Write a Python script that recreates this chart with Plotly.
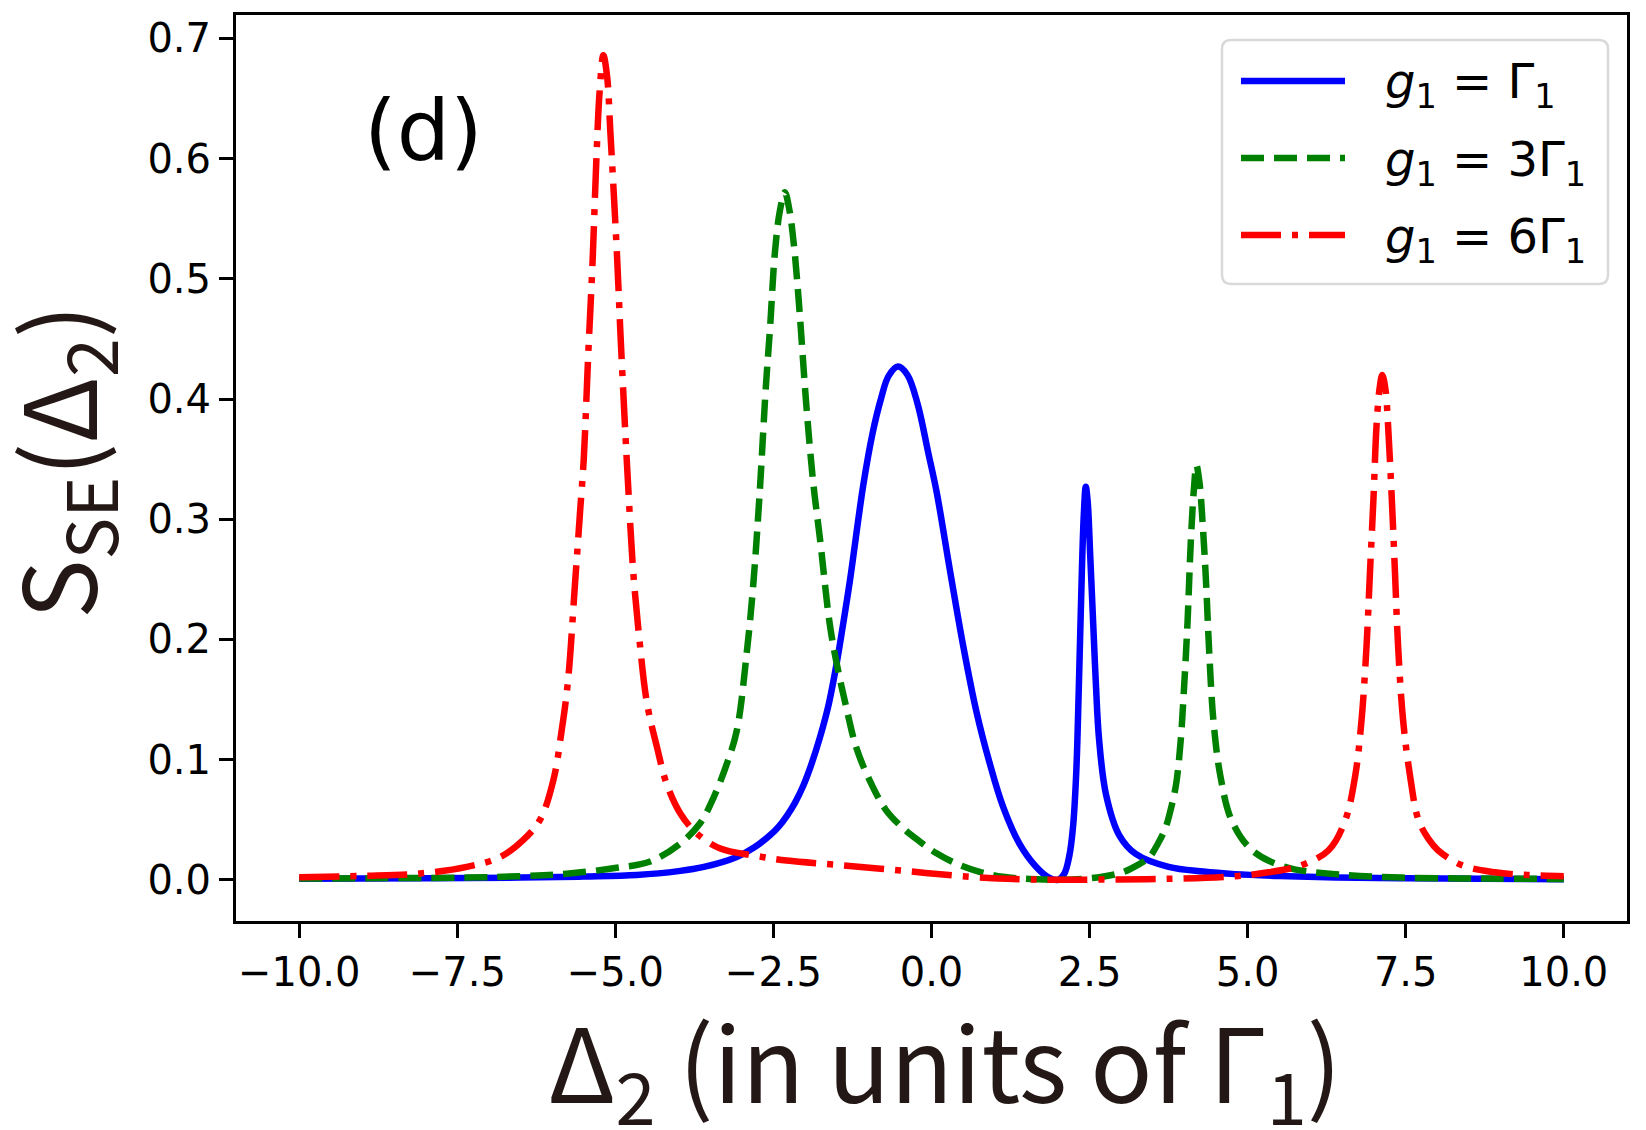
import plotly.graph_objects as go

# ---------------- data ----------------
blue_x = [-10, -8, -6.5, -5.5, -4.66, -4.0, -3.6, -3.08, -2.8, -2.555, -2.42, -2.29, -2.16, -2.03,
          -1.9, -1.767, -1.63, -1.5, -1.4, -1.29, -1.08, -0.93, -0.8, -0.68, -0.53, -0.38, -0.22,
          -0.05, 0.08, 0.29, 0.5, 0.71, 0.92, 1.13, 1.39, 1.65, 1.85, 2.0, 2.1, 2.18, 2.24, 2.29,
          2.33, 2.38, 2.41, 2.44, 2.47, 2.51, 2.56, 2.60, 2.65, 2.76, 2.97, 3.23, 3.75, 4.3, 4.8,
          5.5, 6.4, 7.5, 8.7, 10]
blue_y = [0.0008, 0.0012, 0.0018, 0.0027, 0.0040, 0.0072, 0.0107, 0.019, 0.027, 0.037, 0.044,
          0.053, 0.064, 0.078, 0.096, 0.118, 0.145, 0.180, 0.212, 0.249, 0.328, 0.372, 0.400, 0.419,
          0.427, 0.420, 0.396, 0.355, 0.323, 0.258, 0.195, 0.140, 0.097, 0.061, 0.030, 0.011,
          0.002, 0.0, 0.005, 0.020, 0.045, 0.090, 0.160, 0.260, 0.305, 0.327, 0.315, 0.270, 0.210,
          0.163, 0.117, 0.071, 0.037, 0.0215, 0.0107, 0.0068, 0.0047, 0.0031, 0.0018, 0.0012,
          0.0008, 0.0005]

green_x = [-10, -8.5, -7.35, -6.5, -5.77, -4.98, -4.46, -4.0, -3.66, -3.45, -3.24, -3.08, -2.92,
           -2.82, -2.72, -2.62, -2.55, -2.48, -2.40, -2.32, -2.25, -2.17, -2.09, -1.98, -1.87, -1.76,
           -1.61, -1.50, -1.35, -1.19, -0.98, -0.72, -0.45, -0.19, 0.08, 0.39, 0.76, 1.13, 1.5, 1.8,
           2.0, 2.3, 2.7, 3.02, 3.25, 3.44, 3.58, 3.70, 3.80, 3.87, 3.94, 4.0, 4.05, 4.10, 4.15, 4.19,
           4.24, 4.29, 4.34, 4.39, 4.46, 4.57, 4.75, 5.07, 5.59, 6.38, 7.43, 8.7, 10]
green_y = [0.0010, 0.0014, 0.0018, 0.0030, 0.0050, 0.0100, 0.0150, 0.029, 0.047, 0.068, 0.096, 0.124,
           0.190, 0.245, 0.320, 0.410, 0.462, 0.520, 0.556, 0.572, 0.558, 0.525, 0.475, 0.395, 0.330,
           0.282, 0.213, 0.180, 0.144, 0.110, 0.083, 0.058, 0.043, 0.032, 0.022, 0.0135, 0.0066,
           0.0025, 0.0008, 0.0002, 0.0, 0.0004, 0.0025, 0.0062, 0.012, 0.0185, 0.030, 0.043, 0.062,
           0.080, 0.115, 0.165, 0.215, 0.280, 0.325, 0.345, 0.330, 0.295, 0.250, 0.192, 0.132, 0.086,
           0.049, 0.0246, 0.0107, 0.0047, 0.0018, 0.0010, 0.0007]

red_x = [-10, -9, -8.14, -7.35, -6.82, -6.46, -6.19, -5.98, -5.85, -5.75, -5.64, -5.56, -5.50, -5.43,
         -5.36, -5.30, -5.25, -5.19, -5.13, -5.08, -5.02, -4.97, -4.92, -4.86, -4.80, -4.72, -4.62,
         -4.50, -4.34, -4.19, -3.97, -3.71, -3.34, -2.82, -2.29, -1.5, -0.45, 0.6, 1.39, 2.0, 2.7,
         3.75, 4.81, 5.33, 5.86, 6.28, 6.54, 6.70, 6.80, 6.88, 6.935, 6.99, 7.04, 7.09, 7.13, 7.18,
         7.22, 7.28, 7.33, 7.38, 7.46, 7.57, 7.70, 7.86, 8.01, 8.38, 8.91, 9.43, 10]
red_y = [0.0020, 0.0032, 0.0050, 0.0107, 0.019, 0.033, 0.050, 0.083, 0.124, 0.165, 0.245, 0.305,
         0.350, 0.436, 0.515, 0.600, 0.655, 0.686, 0.668, 0.623, 0.566, 0.515, 0.455, 0.390, 0.330,
         0.258, 0.200, 0.147, 0.110, 0.080, 0.055, 0.0385, 0.026, 0.0203, 0.0160, 0.0125, 0.0075,
         0.0025, 0.0005, 0.0, 0.0002, 0.0008, 0.0030, 0.0062, 0.0123, 0.0246, 0.049, 0.086, 0.132,
         0.194, 0.256, 0.317, 0.379, 0.410, 0.420, 0.408, 0.379, 0.317, 0.256, 0.194, 0.132, 0.086,
         0.050, 0.034, 0.0246, 0.0123, 0.0062, 0.0040, 0.0030]

x_tick_vals = [-10, -7.5, -5, -2.5, 0, 2.5, 5, 7.5, 10]
x_tick_text = ["\u221210.0", "\u22127.5", "\u22125.0", "\u22122.5", "0.0", "2.5", "5.0", "7.5", "10.0"]
y_tick_vals = [0.0, 0.1, 0.2, 0.3, 0.4, 0.5, 0.6, 0.7]
y_tick_text = ["0.0", "0.1", "0.2", "0.3", "0.4", "0.5", "0.6", "0.7"]

legend_labels = ["<i>g</i><sub>1</sub> = \u0393<sub>1</sub>",
                 "<i>g</i><sub>1</sub> = 3\u0393<sub>1</sub>",
                 "<i>g</i><sub>1</sub> = 6\u0393<sub>1</sub>"]
colors = ["#0000ff", "#008000", "#ff0000"]
dashes = ["solid", "23px,10px", "40px,11px,6px,11px"]

# ---------------- layout geometry (pixels) ----------------
W, H = 1646, 1130
L, R, T, B = 236, 1627, 15, 921
PW, PH = R - L, B - T


def px(xp):
    return (xp - L) / PW


def py(yp):
    return (B - yp) / PH


LW = 6.5
fig = go.Figure()
for xs, ys, c, d in zip([blue_x, green_x, red_x], [blue_y, green_y, red_y], colors, dashes):
    fig.add_trace(go.Scatter(x=xs, y=ys, mode="lines",
                             line=dict(color=c, width=LW, dash=d, shape="spline", smoothing=1.0),
                             showlegend=False, hoverinfo="skip"))

axis_common = dict(showgrid=False, zeroline=False, showline=True, mirror=True,
                   linecolor="black", linewidth=3, ticks="outside", ticklen=14, tickwidth=3,
                   tickcolor="black", tickfont=dict(family="DejaVu Sans", size=40, color="black"),
                   automargin=False)
fig.update_xaxes(range=[-11, 11], tickvals=x_tick_vals, ticktext=x_tick_text, **axis_common)
fig.update_yaxes(range=[-0.0343, 0.7195], tickvals=y_tick_vals, ticktext=y_tick_text, **axis_common)

shapes = []
# legend frame (rounded)
bx0, bx1, by0, by1 = px(1222), px(1608), py(284), py(40)
rx, ry = 9 / PW, 9 / PH
path = (f"M {bx0+rx},{by0} L {bx1-rx},{by0} Q {bx1},{by0} {bx1},{by0+ry} "
        f"L {bx1},{by1-ry} Q {bx1},{by1} {bx1-rx},{by1} L {bx0+rx},{by1} "
        f"Q {bx0},{by1} {bx0},{by1-ry} L {bx0},{by0+ry} Q {bx0},{by0} {bx0+rx},{by0} Z")
shapes.append(dict(type="path", path=path, xref="paper", yref="paper",
                   line=dict(color="#d9d9d9", width=2.5), fillcolor="rgba(255,255,255,0.8)",
                   layer="above"))
rows = [81, 158, 235]
annotations = []
for rowy, c, d, lab in zip(rows, colors, dashes, legend_labels):
    shapes.append(dict(type="line", xref="paper", yref="paper", x0=px(1241), x1=px(1345),
                       y0=py(rowy), y1=py(rowy), line=dict(color=c, width=LW, dash=d),
                       layer="above"))
    annotations.append(dict(text=lab, xref="paper", yref="paper", x=px(1383), y=py(rowy + 4),
                            xanchor="left", yanchor="middle", showarrow=False,
                            font=dict(family="DejaVu Sans", size=48, color="black")))

annotations.append(dict(text="(d)", xref="paper", yref="paper", x=px(423), y=py(131),
                        xanchor="center", yanchor="middle", showarrow=False,
                        font=dict(family="DejaVu Sans", size=84, color="black")))
annotations.append(dict(text="\u0394<sub>2</sub> (in units of \u0393<sub>1</sub>)", xref="paper",
                        yref="paper", x=px(945), y=py(1065), xanchor="center", yanchor="middle",
                        showarrow=False,
                        font=dict(family="Noto Sans CJK JP", size=103, color="#231815")))
annotations.append(dict(text="S<sub>SE</sub>(\u0394<sub>2</sub>)", xref="paper", yref="paper",
                        x=px(60), y=py(462), xanchor="center", yanchor="middle", textangle=-90,
                        showarrow=False,
                        font=dict(family="Noto Sans CJK JP", size=100, color="#231815")))

fig.update_layout(width=W, height=H, autosize=False,
                  margin=dict(l=L, r=W - R, t=T, b=H - B, pad=0),
                  paper_bgcolor="white", plot_bgcolor="white",
                  shapes=shapes, annotations=annotations, showlegend=False)

fig.write_html("out.html")
